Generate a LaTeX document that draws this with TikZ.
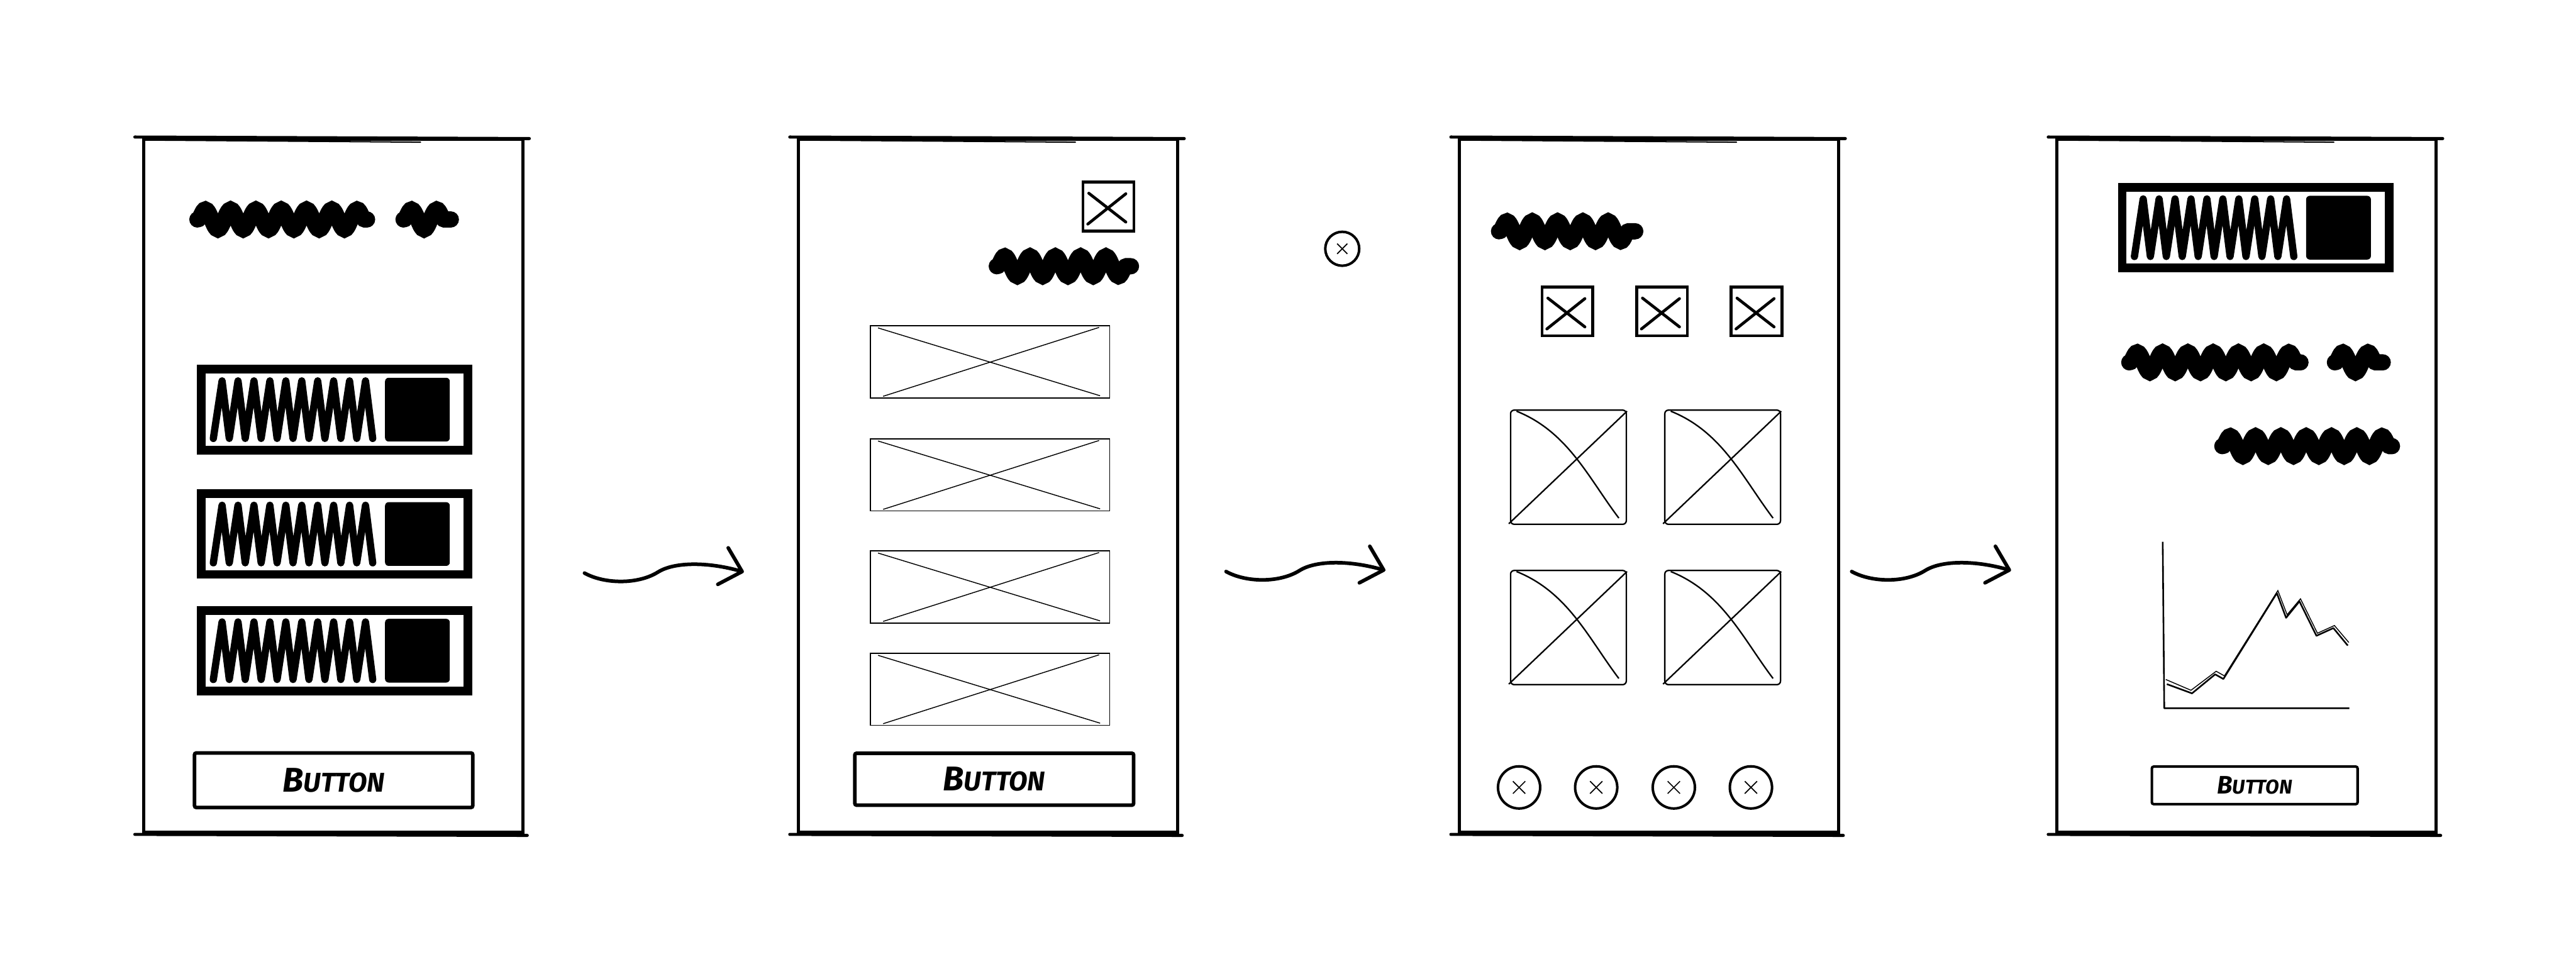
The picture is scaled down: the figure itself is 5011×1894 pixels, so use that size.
\documentclass[tikz,border=0pt]{standalone}
\usepackage{fontspec}
\newfontfamily\btnfont{Fira Sans}
\usetikzlibrary{arrows.meta,positioning,calc,decorations.pathmorphing}

% label of the wireframe buttons
\newcommand{\btnlabel}[2]{{\btnfont\bfseries\itshape\fontsize{#1}{#1}\selectfont B\fontsize{#2}{#2}\selectfont UTTON}}

% overshooting strokes of a hand drawn screen
\newcommand{\sketchframe}[1]{%
  \draw[line width=1.7pt, line cap=round] ($(#1.north west)+(-14,-1)$) -- ($(#1.north east)+(10,2)$);
  \draw[line width=0.7pt, line cap=round] ($(#1.north west)+(20,5)$) -- ($(#1.north)+(170,9)$);
  \draw[line width=1.7pt, line cap=round] ($(#1.south west)+(-14,1)$) -- ($(#1.south east)+(6,3)$);}

% scribbled text and a square inside a list bar
\newcommand{\barfill}[1]{%
  \begin{scope}[shift={(#1.center)}]
    \draw[zig] (-236,56) foreach \k in {1,...,10} { -- ++(17,-112) -- ++(14,112) };
    \fill[rounded corners=2pt] (98,-62) rectangle (224,62);
  \end{scope}}

% cross of a small image icon
\newcommand{\iconx}[1]{%
  \draw[line width=1.6pt, line cap=round] ($(#1)+(-38,-26)$) -- ($(#1)+(34,30)$);
  \draw[line width=1.6pt, line cap=round] ($(#1)+(-40,34)$) -- ($(#1)+(34,-25)$);}

% cross inside a round button
\newcommand{\circx}[2]{%
  \draw[line width=0.6pt] ($(#1)+(-#2,-#2)$) -- ($(#1)+(#2,#2)$);
  \draw[line width=0.6pt] ($(#1)+(-#2,#2)$) -- ($(#1)+(#2,-#2)$);}

\begin{document}
\begin{tikzpicture}[
  x=0.01cm, y=-0.01cm,
  phone/.style={draw, line width=1.7pt, minimum width=7.37cm, minimum height=13.48cm, inner sep=0pt},
  bar/.style={draw, line width=4.8pt, minimum width=5.19cm, minimum height=1.57cm, inner sep=0pt},
  zig/.style={line width=4pt, line cap=round, line join=round},
  scrib/.style={line width=9pt, line cap=round, decorate, decoration={snake, amplitude=5.5pt, segment length=14pt}},
  btn/.style={draw, line width=2pt, rounded corners=1pt, inner sep=0pt},
  icon/.style={draw, line width=1.6pt, minimum width=0.99cm, minimum height=0.95cm, inner sep=0pt},
  ph/.style={draw, line width=0.6pt, minimum width=4.65cm, minimum height=1.40cm, inner sep=0pt},
  phx/.style={line width=0.5pt},
  ph3/.style={draw, line width=0.8pt, rounded corners=2pt, minimum width=2.25cm, minimum height=2.22cm, inner sep=0pt},
  ph3x/.style={line width=0.8pt},
  dot/.style={circle, draw, line width=1.4pt, inner sep=0pt},
  chart/.style={line width=0.9pt, line join=round},
  flow/.style={line width=2pt, line cap=round, -{Straight Barb[length=11pt, width=21pt, round]}}
]
\useasboundingbox (0,0) rectangle (5011,1894);

% screen 1: list
\node[phone] (p1) at (648,945) {};
\sketchframe{p1}
\draw[scrib] (384,427) -- (714,427);
\draw[scrib] (785,427) -- (877,427);
\foreach \n/\y in {1/797, 2/1039, 3/1266} {
  \node[bar] (b1\n) at (651,\y) {};
  \barfill{b1\n}
}
\node[btn, minimum width=5.41cm, minimum height=1.06cm] (btn1) at (649,1518) {\btnlabel{19}{15}};

% screen 2: image list
\node[phone] (p2) at (1922,945) {};
\sketchframe{p2}
\node[icon] (ic2) at (2156,402) {};
\iconx{ic2}
\draw[scrib] (1939,518) -- (2200,518);
\foreach \n/\y in {1/704, 2/924, 3/1142, 4/1341} {
  \node[ph] (im2\n) at (1926,\y) {};
  \draw[phx] ($(im2\n)+(-218,-66)$) -- ($(im2\n)+(214,66)$);
  \draw[phx] ($(im2\n)+(-208,67)$) -- ($(im2\n)+(212,-67)$);
}
\node[btn, minimum width=5.42cm, minimum height=1.01cm] (btn2) at (1934,1516) {\btnlabel{19}{15}};

% screen 3: gallery
\node[dot, minimum size=0.66cm] (c0) at (2611,484) {};
\circx{c0}{10}
\node[phone] (p3) at (3208,945) {};
\sketchframe{p3}
\draw[scrib] (2916,450) -- (3181,450);
\foreach \n/\x in {1/3049, 2/3233, 3/3417} {
  \node[icon] (ic3\n) at (\x,606) {};
  \iconx{ic3\n}
}
\foreach \n/\x/\y in {1/3051/909, 2/3351/909, 3/3051/1221, 4/3351/1221} {
  \node[ph3] (im3\n) at (\x,\y) {};
  \draw[ph3x] ($(im3\n)+(-116,110)$) -- ($(im3\n)+(114,-109)$);
  \draw[ph3x] ($(im3\n)+(-101,-109)$) .. controls ($(im3\n)+(-1,-69)$) and ($(im3\n)+(39,21)$) .. ($(im3\n)+(98,99)$);
}
\foreach \n/\x in {1/2955, 2/3105, 3/3256, 4/3406} {
  \node[dot, minimum size=0.82cm] (c\n) at (\x,1532) {};
  \circx{c\n}{12}
}

% screen 4: detail with chart
\node[phone] (p4) at (4370,945) {};
\sketchframe{p4}
\node[bar] (b41) at (4388,443) {};
\barfill{b41}
\draw[scrib] (4142,705) -- (4475,705);
\draw[scrib] (4542,705) -- (4635,705);
\draw[scrib] (4323,868) -- (4653,868);
\coordinate (o4) at (4210,1378);
\draw[chart] (4207,1054) -- (o4) -- (4570,1378);
\draw[chart] (4215,1331) -- (4264,1349) -- (4309,1312) -- (4325,1321) -- (4429,1154) -- (4447,1202)
  -- (4473,1170) -- (4506,1237) -- (4539,1222) -- (4567,1256);
\draw[line width=0.5pt] (4213,1322) -- (4262,1343) -- (4311,1306) -- (4327,1315) -- (4431,1149) -- (4449,1196)
  -- (4475,1165) -- (4508,1232) -- (4541,1217) -- (4569,1250);
\node[btn, line width=1.4pt, minimum width=4.0cm, minimum height=0.73cm] (btn4) at (4386,1528) {\btnlabel{14}{11}};

% transitions
\coordinate (a1s) at (1137,1115);
\coordinate (a1e) at (1447,1113);
\coordinate (a2s) at (2385,1112);
\coordinate (a2e) at (2695,1110);
\coordinate (a3s) at (3602,1112);
\coordinate (a3e) at (3912,1110);
\foreach \a in {a1, a2, a3} {
  \draw[flow] (\a s) .. controls ($(\a s)+(40,22)$) and ($(\a s)+(105,22)$) .. ($(\a s)+(143,-2)$)
    .. controls ($(\a s)+(175,-22)$) and ($(\a s)+(240,-22)$) .. (\a e);
}
\end{tikzpicture}
\end{document}
